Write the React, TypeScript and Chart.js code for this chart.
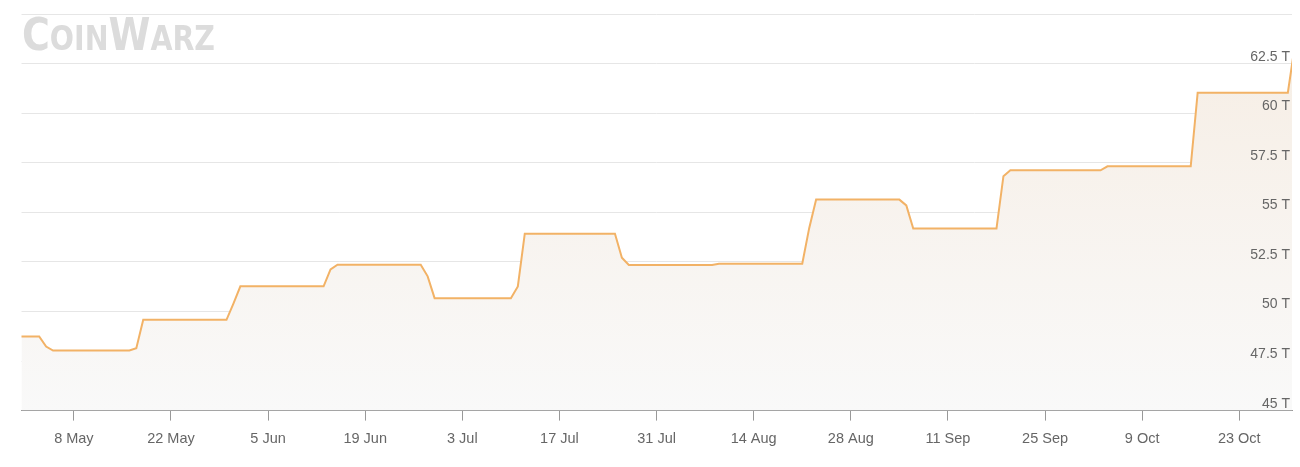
import React, { useEffect, useRef } from 'react';
import { Chart, registerables } from 'chart.js';

Chart.register(...registerables);

// Day 0 = 30 Apr; one value per day (network hashrate, in T)
const dayIndex: number[] = Array.from({ length: 185 }, (_, i) => i);
const hashrate: number[] = [
  48.74, 48.74, 48.74, 48.74, 48.23,
  48.03, 48.03, 48.03, 48.03, 48.03, 48.03, 48.03, 48.03, 48.03, 48.03, 48.03, 48.03,
  48.15,
  49.58, 49.58, 49.58, 49.58, 49.58, 49.58, 49.58, 49.58, 49.58, 49.58, 49.58, 49.58, 49.58,
  50.4,
  51.27, 51.27, 51.27, 51.27, 51.27, 51.27, 51.27, 51.27, 51.27, 51.27, 51.27, 51.27, 51.27,
  52.12,
  52.36, 52.36, 52.36, 52.36, 52.36, 52.36, 52.36, 52.36, 52.36, 52.36, 52.36, 52.36, 52.36,
  51.77,
  50.67, 50.67, 50.67, 50.67, 50.67, 50.67, 50.67, 50.67, 50.67, 50.67, 50.67, 50.67,
  51.26,
  53.92, 53.92, 53.92, 53.92, 53.92, 53.92, 53.92, 53.92, 53.92, 53.92, 53.92, 53.92, 53.92, 53.92,
  52.71,
  52.34, 52.34, 52.34, 52.34, 52.34, 52.34, 52.34, 52.34, 52.34, 52.34, 52.34, 52.34, 52.34,
  52.41, 52.41, 52.41, 52.41, 52.41, 52.41, 52.41, 52.41, 52.41, 52.41, 52.41, 52.41, 52.41,
  54.2,
  55.64, 55.64, 55.64, 55.64, 55.64, 55.64, 55.64, 55.64, 55.64, 55.64, 55.64, 55.64, 55.64,
  55.35,
  54.18, 54.18, 54.18, 54.18, 54.18, 54.18, 54.18, 54.18, 54.18, 54.18, 54.18, 54.18, 54.18,
  56.82,
  57.12, 57.12, 57.12, 57.12, 57.12, 57.12, 57.12, 57.12, 57.12, 57.12, 57.12, 57.12, 57.12, 57.12,
  57.32, 57.32, 57.32, 57.32, 57.32, 57.32, 57.32, 57.32, 57.32, 57.32, 57.32, 57.32, 57.32,
  61.03, 61.03, 61.03, 61.03, 61.03, 61.03, 61.03, 61.03, 61.03, 61.03, 61.03, 61.03, 61.03, 61.03,
  63.4,
];

const xTickDays: number[] = [8, 22, 36, 50, 64, 78, 92, 106, 120, 134, 148, 162, 176];
const xTickLabels: string[] = [
  '8 May', '22 May', '5 Jun', '19 Jun', '3 Jul', '17 Jul', '31 Jul',
  '14 Aug', '28 Aug', '11 Sep', '25 Sep', '9 Oct', '23 Oct',
];
const yTickValues: number[] = [45, 47.5, 50, 52.5, 55, 57.5, 60, 62.5, 65];
const yTickLabels: string[] = ['45 T', '47.5 T', '50 T', '52.5 T', '55 T', '57.5 T', '60 T', '62.5 T', ''];

const FONT = '"Liberation Sans", Arial, Helvetica, sans-serif';

const yLabelPlugin = {
  id: 'yLabels',
  afterDatasetsDraw(chart: any) {
    const { ctx, chartArea, scales } = chart;
    const y = scales.y;
    ctx.save();
    ctx.font = `14px ${FONT}`;
    ctx.fillStyle = '#666666';
    ctx.textAlign = 'right';
    ctx.textBaseline = 'alphabetic';
    yTickValues.forEach((v, i) => {
      const label = yTickLabels[i];
      if (!label) return;
      ctx.fillText(label, chartArea.right - 2, y.getPixelForValue(v) - 3);
    });
    ctx.restore();
  },
};

const logoPlugin = {
  id: 'logo',
  beforeDatasetsDraw(chart: any) {
    const { ctx } = chart;
    const parts: [string, number][] = [['C', 44], ['OIN', 33], ['W', 44], ['ARZ', 33]];
    ctx.save();
    ctx.fillStyle = '#dcdcdc';
    ctx.textBaseline = 'alphabetic';
    let total = 0;
    const widths = parts.map(([t, s]) => {
      ctx.font = `bold ${s}px "DejaVu Sans Condensed", "DejaVu Sans", sans-serif`;
      const w = ctx.measureText(t).width;
      total += w;
      return w;
    });
    const left = 22;
    const targetW = 193;
    const sx = targetW / total;
    ctx.translate(left, 50);
    ctx.scale(sx, 1);
    let x = 0;
    parts.forEach(([t, s], i) => {
      ctx.font = `bold ${s}px "DejaVu Sans Condensed", "DejaVu Sans", sans-serif`;
      ctx.fillText(t, x, 0);
      x += widths[i];
    });
    ctx.restore();
  },
};

export default function App() {
  const canvasRef = useRef<HTMLCanvasElement | null>(null);

  useEffect(() => {
    if (!canvasRef.current) return;
    const chart = new Chart(canvasRef.current, {
      type: 'line',
      data: {
        datasets: [
          {
            label: 'Hashrate',
            data: dayIndex.map((d, i) => ({ x: d, y: hashrate[i] })),
            borderColor: '#f2b266',
            borderWidth: 2,
            pointRadius: 0,
            tension: 0,
            fill: 'start',
            backgroundColor: (context: any) => {
              const { chart: c } = context;
              const area = c.chartArea;
              if (!area) return 'rgba(0,0,0,0)';
              const g = c.ctx.createLinearGradient(0, area.top, 0, area.bottom);
              g.addColorStop(0, '#f6ede3');
              g.addColorStop(1, '#f9f9f9');
              return g;
            },
          },
        ],
      },
      options: {
        animation: false,
        responsive: true,
        maintainAspectRatio: false,
        layout: { padding: { left: 21.5, right: 8, top: 14, bottom: 9 } },
        plugins: { legend: { display: false }, tooltip: { enabled: false } },
        scales: {
          x: {
            type: 'linear',
            min: 0.45,
            max: 183.6,
            afterBuildTicks: (scale: any) => {
              scale.ticks = xTickDays.map((v) => ({ value: v }));
            },
            ticks: {
              autoSkip: false,
              maxRotation: 0,
              padding: 10,
              color: '#666666',
              font: { family: FONT, size: 14.5 },
              callback: (_v: any, i: number) => xTickLabels[i],
            },
            grid: { drawOnChartArea: false, tickLength: 10, color: '#999999', lineWidth: 1 },
            border: { display: true, color: '#999999', width: 1 },
          },
          y: {
            type: 'linear',
            position: 'right',
            min: 45,
            max: 65,
            afterBuildTicks: (scale: any) => {
              scale.ticks = yTickValues.map((v) => ({ value: v }));
            },
            ticks: { display: false },
            grid: { color: '#e6e6e6', lineWidth: 1, drawTicks: false },
            border: { display: false },
          },
        },
      },
      plugins: [yLabelPlugin, logoPlugin],
    });
    return () => chart.destroy();
  }, []);

  return (
    <div style={{ position: 'absolute', left: 0, top: 0, width: 1300, height: 467 }}>
      <canvas ref={canvasRef} />
    </div>
  );
}
